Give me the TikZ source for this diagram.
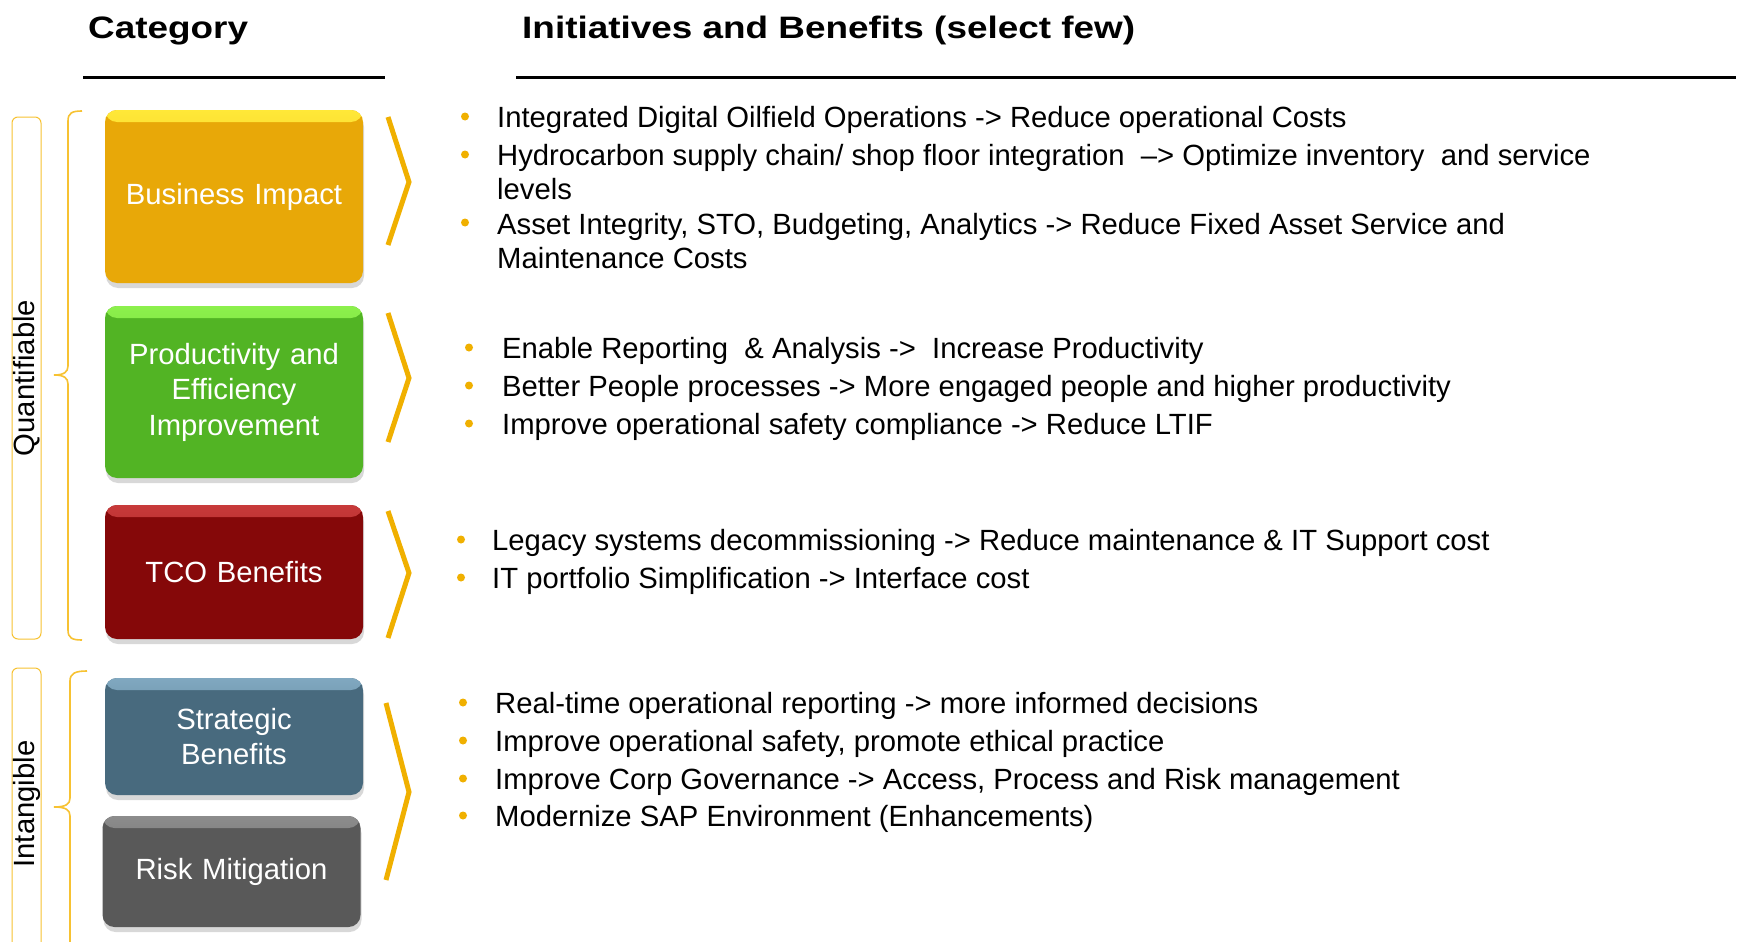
\documentclass[tikz,border=0pt]{standalone}
\usepackage{fontspec}
\setmainfont{Liberation Sans}
\newfontfamily\headfont[FakeStretch=1.19]{Liberation Sans}
\usepackage{xcolor}
\usepackage{tikz}
\usetikzlibrary{shadows}
\usetikzlibrary{positioning}
\usetikzlibrary{calc}

\definecolor{accent}{HTML}{F0B000}
\definecolor{bracecol}{HTML}{F7C232}
\definecolor{bizc}{HTML}{E8A808}
\definecolor{bizctop}{HTML}{FFE838}
\definecolor{prodc}{HTML}{52B424}
\definecolor{prodctop}{HTML}{8CF04C}
\definecolor{tcoc}{HTML}{850809}
\definecolor{tcoctop}{HTML}{C83A3A}
\definecolor{stratc}{HTML}{486A7E}
\definecolor{stratctop}{HTML}{80A8C0}
\definecolor{riskc}{HTML}{595959}
\definecolor{riskctop}{HTML}{8C8C8C}

\newcommand{\bodyfont}{\fontsize{29.25}{34}\selectfont}
\newcommand{\boxfont}{\fontsize{29.25}{35.5}\selectfont}

\tikzstyle{bulletdot}=[circle,fill=accent,minimum size=8pt,inner sep=0pt]
\tikzstyle{initem}=[anchor=base west,align=left,inner sep=0pt,font=\bodyfont]
\tikzstyle{header}=[anchor=base west,inner sep=0pt,font=\headfont\bfseries\fontsize{31}{36}\selectfont]
\tikzstyle{chev}=[draw=accent,line width=5pt]
\tikzstyle{brace} = [draw=bracecol,line width=1.6pt]
\tikzset{catbox/.style={rectangle,rounded corners=12pt,minimum width=258pt,text width=250pt,
  align=center,text=white,font=\boxfont,inner sep=0pt,fill=#1,
  drop shadow={shadow xshift=1pt,shadow yshift=-5pt,opacity=0.3},
  path picture={\shade[top color=#1top,bottom color=#1] (path picture bounding box.north west)
    rectangle ([yshift=-12pt]path picture bounding box.north east);}}}

\begin{document}
\begin{tikzpicture}[x=1pt,y=-1pt]

 \useasboundingbox[fill=white] (0,0) rectangle (1738,942);

 %Headers
 \node[header] (cathead) at (88,39) {Category};
 \node[header] (inihead) at (522,39) {Initiatives and Benefits (select few)};
 \draw[line width=3pt] (83,77.5) -- (385,77.5);
 \draw[line width=3pt] (516,77.5) -- (1736,77.5);

 %Groups
 \draw[draw=bracecol,line width=1pt,rounded corners=6pt] (12,117) rectangle (41,639);
 \draw[draw=bracecol,line width=1pt,rounded corners=6pt] (12,668) rectangle (41,960);
 \node[rotate=90,font=\bodyfont,inner sep=0pt] (quant) at (27,378) {Quantifiable};
 \node[rotate=90,font=\bodyfont,inner sep=0pt] (intang) at (27,804) {Intangible};

 \path[brace] (82,111) .. controls (72,111) and (68,113) .. (68,121) -- (68,366)
   .. controls (68,372) and (64,375) .. (54,375) .. controls (64,375) and (68,378) .. (68,384)
   -- (68,630) .. controls (68,638) and (72,640) .. (82,640);
 \path[brace] (87,671) .. controls (76,671) and (70,673) .. (70,681) -- (70,798)
   .. controls (70,804) and (66,807) .. (54,807) .. controls (66,807) and (70,810) .. (70,816)
   -- (70,950);

 %Category boxes
 \foreach \x/\y/\h/\name/\col/\label in {234/196.5/173/biz/bizc/Business Impact,
     234/392/172/prod/prodc/{Productivity and\\Efficiency\\Improvement},
     234/572/134/tco/tcoc/TCO Benefits,
     234/736.5/117/strat/stratc/{Strategic\\Benefits},
     231.5/871.5/111/risk/riskc/Risk Mitigation}
   \node[catbox=\col,minimum height=\h pt] (\name) at (\x,\y) {\label};

 %Chevrons
 \foreach \xa/\ya/\xb/\yb/\yc in {388/117/409/182/245, 388/313/409/378/442,
     388/511/409/573/638, 386/703/409/792/880}
   \draw[chev] (\xa,\ya) -- (\xb,\yb) -- (\xa,\yc);

 %B0  (\y = last baseline, \b = first baseline)
 \def\bx{465};
 \def\tx{497};
 \foreach \y/\b/\name/\label in {127/127/i1/{Integrated Digital Oilfield Operations -> Reduce operational Costs},
     199/165/i2/{Hydrocarbon supply chain/ shop floor integration\ \ --> Optimize inventory\ \ and service\\levels},
     268/233/i3/{Asset Integrity, STO, Budgeting, Analytics -> Reduce Fixed Asset Service and\\Maintenance Costs}}
   {
   \node[initem] (\name) at (\tx,\y) {\label};
   \node[bulletdot] (d\name) at (\bx,\b-10.5) {};
   }

 %B1
 \def\bx{469};
 \def\tx{502};
 \foreach \y/\name/\label in {358/p1/{Enable Reporting\ \ \& Analysis ->\ \ Increase Productivity},
     396/p2/{Better People processes -> More engaged people and higher productivity},
     434/p3/{Improve operational safety compliance -> Reduce LTIF}}
   {
   \node[initem] (\name) at (\tx,\y) {\label};
   \node[bulletdot] (d\name) at (\bx,\y-10.5) {};
   }

 %B2
 \def\bx{461};
 \def\tx{492};
 \foreach \y/\name/\label in {550/t1/{Legacy systems decommissioning -> Reduce maintenance \& IT Support cost},
     588/t2/{IT portfolio Simplification -> Interface cost}}
   {
   \node[initem] (\name) at (\tx,\y) {\label};
   \node[bulletdot] (d\name) at (\bx,\y-10.5) {};
   }

 %B3
 \def\bx{463};
 \def\tx{495};
 \foreach \y/\name/\label in {713/s1/{Real-time operational reporting -> more informed decisions},
     751/s2/{Improve operational safety, promote ethical practice},
     789/s3/{Improve Corp Governance -> Access, Process and Risk management},
     826/s4/{Modernize SAP Environment (Enhancements)}}
   {
   \node[initem] (\name) at (\tx,\y) {\label};
   \node[bulletdot] (d\name) at (\bx,\y-10.5) {};
   }

\end{tikzpicture}
\end{document}
